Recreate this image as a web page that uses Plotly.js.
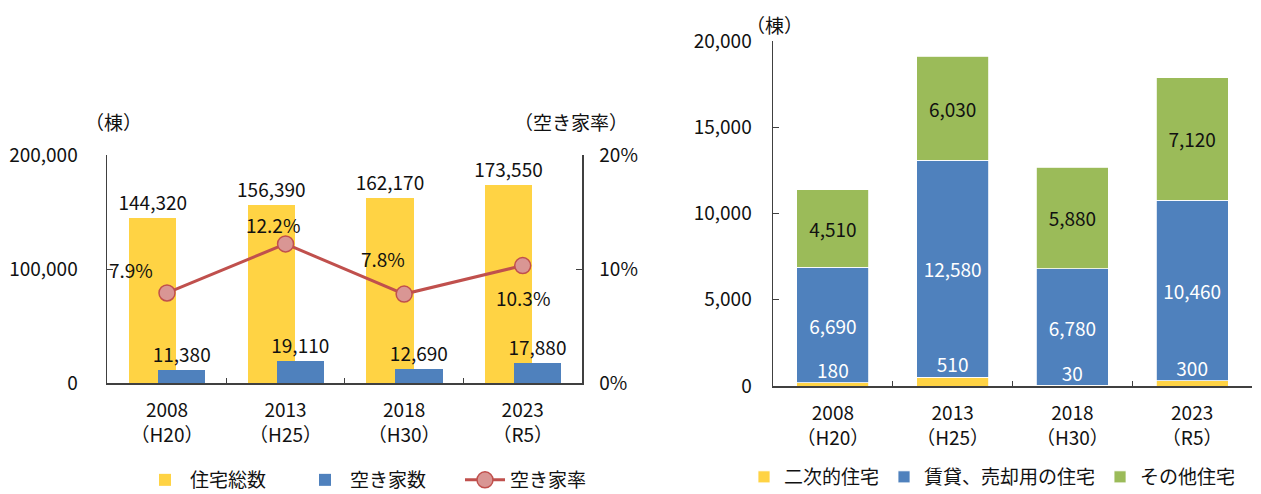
<!DOCTYPE html>
<html><head><meta charset="utf-8">
<script src="https://cdn.plot.ly/plotly-3.0.1.min.js"></script>
<style>html,body{margin:0;padding:0;background:#fff}#chart{width:1261px;height:494px}</style>
</head><body><div id="chart"></div>
<script>
// ---- data ----
const categories = ['2008<br>（H20）', '2013<br>（H25）', '2018<br>（H30）', '2023<br>（R5）'];
const totalHousing = [144320, 156390, 162170, 173550];
const vacantHouses = [11380, 19110, 12690, 17880];
const vacancyRate = [0.079, 0.122, 0.078, 0.103];
const secondaryHousing = [180, 510, 30, 300];
const rentalSaleHousing = [6690, 12580, 6780, 10460];
const otherHousing = [4510, 6030, 5880, 7120];
const leftSeriesNames = ['住宅総数', '空き家数', '空き家率'];
const rightSeriesNames = ['二次的住宅', '賃貸、売却用の住宅', 'その他住宅'];

// ---- styles ----
const FONT = '"Noto Sans CJK JP", "Noto Sans", sans-serif';
const FS = 19;
const YELLOW = '#FFD344', BLUE = '#4F81BD', GREEN = '#9BBB59', RED = '#C0504D', PINK = '#D99694';
const AX = '#404040';
const W = 1261, H = 494;
const px = v => v / W, py = v => 1 - v / H;
const fmt = v => v.toLocaleString('en-US');
const pct = v => (v * 100).toFixed(1) + '%';

const traces = [
  { type: 'bar', x: categories, y: totalHousing, name: leftSeriesNames[0], xaxis: 'x', yaxis: 'y',
    marker: { color: YELLOW }, width: 0.4, offset: -0.32,
    text: totalHousing.map(fmt), textposition: 'outside', cliponaxis: false, constraintext: 'none',
    textfont: { family: FONT, size: FS, color: '#111' }, legend: 'legend', hoverinfo: 'skip' },
  { type: 'bar', x: categories, y: vacantHouses, name: leftSeriesNames[1], xaxis: 'x', yaxis: 'y4',
    marker: { color: BLUE }, width: 0.4, offset: -0.076,
    text: vacantHouses.map(fmt), textposition: 'outside', cliponaxis: false, constraintext: 'none',
    textfont: { family: FONT, size: FS, color: '#111' }, legend: 'legend', hoverinfo: 'skip' },
  { type: 'scatter', mode: 'lines+markers', x: categories, y: vacancyRate, name: leftSeriesNames[2],
    xaxis: 'x', yaxis: 'y2', line: { color: RED, width: 3 }, cliponaxis: false,
    marker: { size: 16, color: PINK, line: { color: RED, width: 1.5 } }, legend: 'legend', hoverinfo: 'skip' },
  { type: 'bar', x: categories, y: secondaryHousing, name: rightSeriesNames[0], xaxis: 'x2', yaxis: 'y3',
    marker: { color: YELLOW, line: { color: '#fff', width: 0.8 } }, width: 0.6, legend: 'legend2', hoverinfo: 'skip' },
  { type: 'bar', x: categories, y: rentalSaleHousing, name: rightSeriesNames[1], xaxis: 'x2', yaxis: 'y3',
    marker: { color: BLUE, line: { color: '#fff', width: 0.8 } }, width: 0.6,
    text: rentalSaleHousing.map(fmt), textposition: 'inside', insidetextanchor: 'middle', textangle: 0,
    constraintext: 'none', textfont: { family: FONT, size: FS, color: '#fff' }, legend: 'legend2', hoverinfo: 'skip' },
  { type: 'bar', x: categories, y: otherHousing, name: rightSeriesNames[2], xaxis: 'x2', yaxis: 'y3',
    marker: { color: GREEN, line: { color: '#fff', width: 0.8 } }, width: 0.6,
    text: otherHousing.map(fmt), textposition: 'inside', insidetextanchor: 'middle', textangle: 0,
    constraintext: 'none', textfont: { family: FONT, size: FS, color: '#111' }, legend: 'legend2', hoverinfo: 'skip' },
  { type: 'scatter', mode: 'text', x: categories, y: secondaryHousing, xaxis: 'x2', yaxis: 'y3',
    text: secondaryHousing.map(fmt), textposition: 'top center', cliponaxis: false,
    textfont: { family: FONT, size: FS, color: '#fff' }, showlegend: false, hoverinfo: 'skip' }
];

// percentage labels beside the line markers
const rateShifts = [[-36, 23], [-13, 19], [-21, 36], [0, -32]];
const annotations = vacancyRate.map((v, i) => ({
  x: categories[i], y: v, xref: 'x', yref: 'y2', text: pct(v), showarrow: false,
  xanchor: 'center', yanchor: 'middle',
  xshift: rateShifts[i][0], yshift: rateShifts[i][1], font: { family: FONT, size: FS, color: '#111' }
}));
const unitLabel = (x, y, text) => ({ xref: 'paper', yref: 'paper', x: px(x), y: py(y), text: text, showarrow: false,
  xanchor: 'center', yanchor: 'middle', font: { family: FONT, size: FS, color: '#111' } });
annotations.push(unitLabel(113, 121, '（棟）'), unitLabel(571, 121, '（空き家率）'), unitLabel(774, 24, '（棟）'));

const tickFont = { family: FONT, size: FS, color: '#111' };
const xCommon = { type: 'category', showline: true, linecolor: AX, linewidth: 1.5, ticks: 'inside', tickson: 'boundaries',
  ticklen: 5, tickcolor: AX, tickfont: tickFont, showgrid: false, zeroline: false, ticklabelstandoff: 10, fixedrange: true };
const yCommon = { showline: true, linecolor: AX, linewidth: 1.5, ticks: 'inside', ticklen: 6, tickcolor: AX,
  tickfont: tickFont, showgrid: false, zeroline: false, fixedrange: true };

const layout = {
  width: W, height: H, margin: { l: 0, r: 0, t: 0, b: 0, autoexpand: false }, paper_bgcolor: '#fff', plot_bgcolor: 'rgba(0,0,0,0)',
  barmode: 'stack', bargap: 0.4, showlegend: true,
  font: { family: FONT, size: FS, color: '#111' },
  xaxis: Object.assign({}, xCommon, { domain: [px(107), px(582)], anchor: 'y' }),
  yaxis: Object.assign({}, yCommon, { domain: [py(383), py(155)], range: [0, 200000], dtick: 100000, tickformat: ',', anchor: 'x', ticklabelstandoff: 24 }),
  yaxis2: Object.assign({}, yCommon, { overlaying: 'y', side: 'right', anchor: 'x', range: [0, 0.2], dtick: 0.1, tickformat: '.0%', ticklabelstandoff: 12 }),
  yaxis4: { overlaying: 'y', anchor: 'x', range: [0, 200000], visible: false, fixedrange: true },
  xaxis2: Object.assign({}, xCommon, { domain: [px(773), px(1252)], anchor: 'y3' }),
  yaxis3: Object.assign({}, yCommon, { domain: [py(386), py(41)], range: [0, 20000], dtick: 5000, tickformat: ',', anchor: 'x2', ticklabelstandoff: 16 }),
  legend: { orientation: 'h', x: px(140), y: py(480), xanchor: 'left', yanchor: 'middle', font: { family: FONT, size: FS, color: '#111' },
    entrywidth: 105, itemwidth: 40, bgcolor: 'rgba(0,0,0,0)', traceorder: 'normal' },
  legend2: { orientation: 'h', x: px(744), y: py(477), xanchor: 'left', yanchor: 'middle', font: { family: FONT, size: FS, color: '#111' },
    itemwidth: 30, bgcolor: 'rgba(0,0,0,0)', traceorder: 'normal' },
  annotations: annotations
};

Plotly.newPlot('chart', traces, layout, { displayModeBar: false, staticPlot: true });
</script>
</body></html>
